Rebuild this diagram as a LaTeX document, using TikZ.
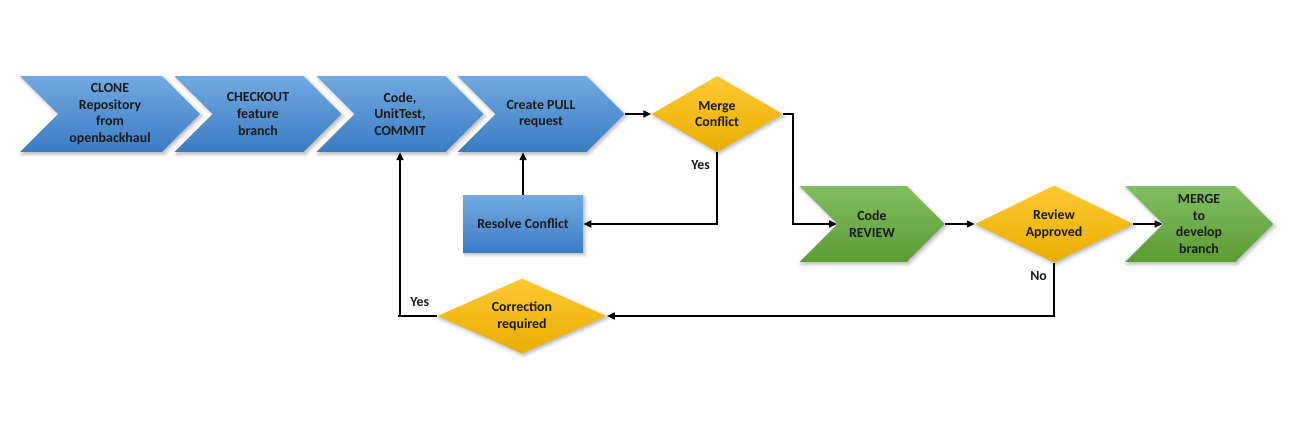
\documentclass[tikz,border=0pt]{standalone}
\usepackage{fontspec}
\setmainfont{Carlito}
\usepackage{xcolor}
\definecolor{gitBlueTop}{HTML}{72A9E0}
\definecolor{gitBlueBot}{HTML}{3A7CC3}
\definecolor{gitGreenTop}{HTML}{82BE62}
\definecolor{gitGreenBot}{HTML}{5A9C34}
\definecolor{gitGoldTop}{HTML}{FFC933}
\definecolor{gitGoldBot}{HTML}{E8AE00}
\definecolor{gitText}{HTML}{1A1A1A}
\usetikzlibrary{calc,arrows.meta,positioning,shapes.symbols,shapes.geometric,shadows.blur}

\begin{document}
\begin{tikzpicture}[x=0.02cm, y=-0.02cm,
    chev/.style={signal, signal to=east, signal from=west, signal pointer angle=90, minimum height=1.52cm, inner sep=0pt, align=center, text=gitText, font=\bfseries\fontsize{7.9}{9.5}\selectfont, blur shadow={shadow xshift=1pt, shadow yshift=-1.2pt, shadow blur steps=4, shadow opacity=30}},
    bluechev/.style={chev, top color=gitBlueTop, bottom color=gitBlueBot},
    greenchev/.style={chev, top color=gitGreenTop, bottom color=gitGreenBot},
    dec/.style={diamond, inner sep=0pt, aspect=2, align=center, text=gitText, font=\bfseries\fontsize{7.9}{9.5}\selectfont, top color=gitGoldTop, bottom color=gitGoldBot, blur shadow={shadow xshift=1pt, shadow yshift=-1.2pt, shadow blur steps=4, shadow opacity=30}},
    procbox/.style={rectangle, inner sep=0pt, align=center, text=gitText, font=\bfseries\fontsize{7.9}{9.5}\selectfont, top color=gitBlueTop, bottom color=gitBlueBot, blur shadow={shadow xshift=1pt, shadow yshift=-1.2pt, shadow blur steps=4, shadow opacity=30}},
    lbl/.style={inner sep=1pt, text=gitText, font=\bfseries\fontsize{7.9}{9.5}\selectfont},
    arr/.style={-{Triangle[length=4.5pt, width=4pt]}, line width=0.85pt, black}
  ]
    \useasboundingbox (0,0) rectangle (1293,435);
    % top row
    \node[bluechev, minimum width=3.6cm] (clone) at (110,114) {CLONE\\Repository\\from\\openbackhaul};
    \node[bluechev, minimum width=3.34cm] (checkout) at (258,114) {CHECKOUT\\feature\\branch};
    \node[bluechev, minimum width=3.34cm] (code) at (400,114) {Code,\\UnitTest,\\COMMIT};
    \node[bluechev, minimum width=3.34cm] (pull) at (541,114) {Create PULL\\request};
    \node[dec, minimum width=2.62cm, minimum height=1.52cm] (mc) at (717,114) {Merge\\Conflict};
    % middle row
    \node[procbox, minimum width=2.4cm, minimum height=1.14cm] (resolve) at (523,224) {Resolve Conflict};
    \node[greenchev, minimum width=2.9cm] (review) at (872,224) {Code\\REVIEW};
    \node[dec, minimum width=3.16cm, minimum height=1.54cm] (approved) at (1054,224) {Review\\Approved};
    \node[greenchev, minimum width=2.96cm] (merge) at (1199,224) {MERGE\\to\\develop\\branch};
    % bottom row
    \node[dec, minimum width=3.38cm, minimum height=1.5cm] (corr) at (522,316) {Correction\\required};
    % labels
    \node[lbl, anchor=east] (yesmc) at ($(mc.south)+(-5,13)$) {Yes};
    \node[lbl, anchor=east] (noap) at ($(approved.south)+(-5,13)$) {No};
    \node[lbl, anchor=east] (yescorr) at ($(corr.west)+(-6,-14)$) {Yes};
    % connectors
    \draw[arr] (pull.east) -- (mc.west);
    \draw[arr] (mc.east) -- ++(10,0) |- (review.west);
    \draw[arr] (mc.south) |- (resolve.east);
    \draw[arr] (resolve.north) -- (resolve.north |- pull.south);
    \draw[arr] (review.east) -- (approved.west);
    \draw[arr] (approved.east) -- (merge.west);
    \draw[arr] (approved.south) |- (corr.east);
    \draw[arr] (corr.west) -- ++(-39,0) -| (code.south);
  \end{tikzpicture}
\end{document}
